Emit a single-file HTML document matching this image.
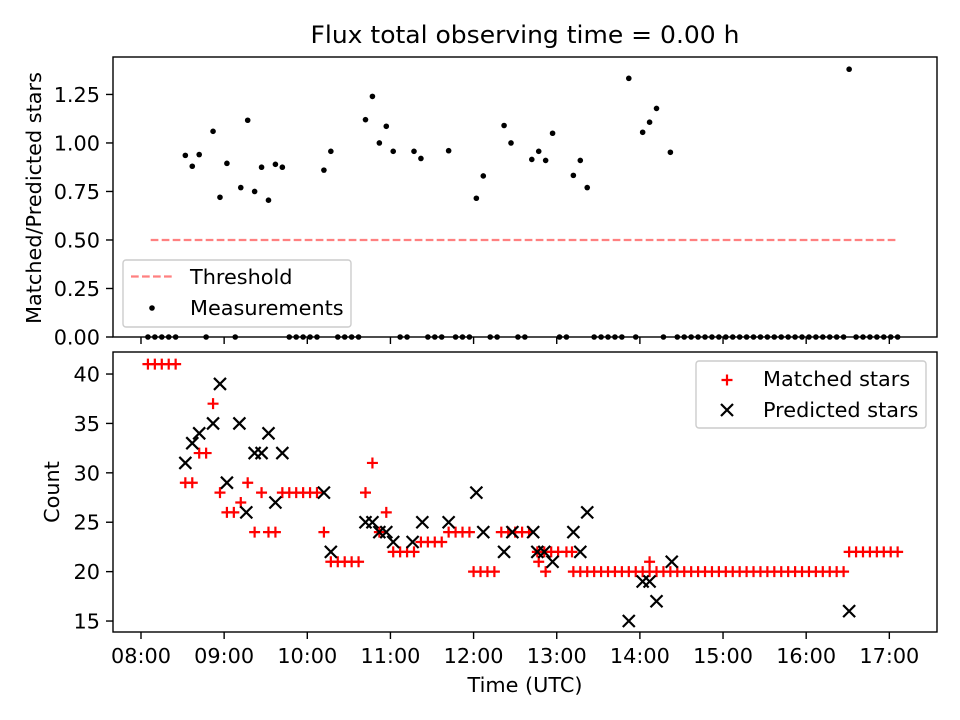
<!DOCTYPE html>
<html><head><meta charset="utf-8"><style>
html,body{margin:0;padding:0;background:#fff;}
svg{display:block;font-family:"DejaVu Sans","Liberation Sans",sans-serif;}
</style></head><body>
<svg id="chart" width="960" height="720" viewBox="0 0 960 720" xmlns="http://www.w3.org/2000/svg"></svg>
<script>
// minutes after 08:00
const matchedTimes = [5,10,15,20,25,32,37,42,47,52,57,62,67,72,77,82,87,92,97,102,107,112,117,122,127,132,137,142,147,152,157,162,167,172,177,182,187,192,197,202,207,212,217,222,227,232,237,240,245,250,255,260,265,270,275,280,286,291,296,301,307,311,
312,317,322,327,332,337,342,347,352,357,362,367,372,377,382,387,392,397,402,407,412,417,422,427,432,437,442,447,452,457,462,467,472,477,482,487,492,497,502,507,367,511,516,521,526,531,536,541,546,287,292];
const matchedCounts = [41,41,41,41,41,29,29,32,32,37,28,26,26,27,29,24,28,24,24,28,28,28,28,28,28,24,21,21,21,21,21,28,31,24,26,22,22,22,22,23,23,23,23,24,24,24,24,20,20,20,20,24,24,24,24,24,22,22,22,22,22,22,
20,20,20,20,20,20,20,20,20,20,20,20,20,20,20,20,20,20,20,20,20,20,20,20,20,20,20,20,20,20,20,20,20,20,20,20,20,20,20,20,21,22,22,22,22,22,22,22,22,21,20];
const predictedTimes = [32,37,42,52,57,62,71,76,82,87,92,97,102,132,137,162,167,172,177,182,196,203,222,242,247,262,268,283,286,291,297,312,317,322,352,362,367,372,383,511];
const predictedCounts = [31,33,34,35,39,29,35,26,32,32,34,27,32,28,22,25,25,24,24,23,23,25,25,28,24,22,24,24,22,22,21,24,22,26,15,19,19,17,21,16];
const ratioTimes = [32,37,42,52,57,62,72,77,82,87,92,97,102,132,137,162,167,172,177,182,197,202,222,242,247,262,267,282,287,292,297,312,317,322,352,362,367,372,382,511,
5,10,15,20,25,47,68,107,112,117,122,127,142,147,152,157,187,192,207,212,217,227,232,237,252,257,272,277,302,307,327,332,337,342,347,357,377,
387,392,397,402,407,412,417,422,427,432,437,442,447,452,457,462,467,472,477,482,487,492,497,502,507,516,521,526,531,536,541,546];
const ratioValues = [0.936,0.88,0.94,1.06,0.72,0.895,0.77,1.117,0.75,0.875,0.705,0.89,0.875,0.86,0.957,1.12,1.24,1.0,1.086,0.957,0.957,0.92,0.96,0.715,0.83,1.09,1.0,0.915,0.957,0.91,1.05,0.833,0.91,0.77,1.333,1.055,1.107,1.178,0.952,1.38,
0,0,0,0,0,0,0,0,0,0,0,0,0,0,0,0,0,0,0,0,0,0,0,0,0,0,0,0,0,0,0,0,0,0,0,0,0,
0,0,0,0,0,0,0,0,0,0,0,0,0,0,0,0,0,0,0,0,0,0,0,0,0,0,0,0,0,0,0,0];
const thresholdValue = 0.5;
const thresholdRange = [7, 545];
const xTickLabels = ["08:00","09:00","10:00","11:00","12:00","13:00","14:00","15:00","16:00","17:00"];
const topYTicks = [0,0.25,0.5,0.75,1.0,1.25];
const bottomYTicks = [15,20,25,30,35,40];

const NS="http://www.w3.org/2000/svg";
const svg=document.getElementById('chart');
function mk(tag,attrs,parent){const e=document.createElementNS(NS,tag);for(const k in attrs)e.setAttribute(k,attrs[k]);(parent||svg).appendChild(e);return e;}
const L=113,R=937,T1=57,B1=337,T2=352,B2=632;
const xMin=-20.2, xMax=574.4;
function xs(m){return L+(m-xMin)/(xMax-xMin)*(R-L);}
const rMin=0, rMax=1.443;
function y1(v){return B1-(v-rMin)/(rMax-rMin)*(B1-T1);}
const cMin=13.89,cMax=42.23;
function y2(v){return B2-(v-cMin)/(cMax-cMin)*(B2-T2);}
const FS=20.8;

let t=mk('text',{x:525,y:43,'text-anchor':'middle','font-size':'24',textLength:429,lengthAdjust:'spacingAndGlyphs'});t.textContent='Flux total observing time = 0.00 h';



const gTop=mk('g',{});


let th=mk('line',{x1:xs(thresholdRange[0]),x2:xs(thresholdRange[1]),y1:y1(thresholdValue),y2:y1(thresholdValue),stroke:'#ff8080','stroke-width':2.2,'stroke-dasharray':'7.7,3.3'},gTop);


ratioTimes.forEach((m,i)=>{
  const c=mk('circle',{cx:xs(m),cy:y1(ratioValues[i]),r:2.8,fill:'#000'},gTop);
  
  
});
const gBot=mk('g',{});


function plus(x,y,p,col){mk('path',{d:`M${x-5.5},${y}H${x+5.5}M${x},${y-5.5}V${y+5.5}`,stroke:col,'stroke-width':2.2},p);}
function cross(x,y,p){mk('path',{d:`M${x-6},${y-6}L${x+6},${y+6}M${x-6},${y+6}L${x+6},${y-6}`,stroke:'#000','stroke-width':2.2},p);}
matchedTimes.forEach((m,i)=>{
  const g=mk('g',{},gBot);
  
  
  plus(xs(m),y2(matchedCounts[i]),g,'#ff0000');
});
predictedTimes.forEach((m,i)=>{
  const g=mk('g',{},gBot);
  
  
  cross(xs(m),y2(predictedCounts[i]),g);
});

[[T1,B1,'top'],[T2,B2,'bottom']].forEach(([T,B,n])=>{
  const r=mk('rect',{x:L,y:T,width:R-L,height:B-T,fill:'none',stroke:'#000','stroke-width':1.4});
  
  
  xTickLabels.forEach((lab,i)=>{
    const x=xs(i*60);
    mk('line',{x1:x,x2:x,y1:B,y2:B+7,stroke:'#000','stroke-width':1.4});
    if(n==='bottom'){const tx=mk('text',{x:x,y:663,'text-anchor':'middle','font-size':FS});tx.textContent=lab;
      
      }
  });
});
topYTicks.forEach(v=>{
  const y=y1(v);mk('line',{x1:L-7,x2:L,y1:y,y2:y,stroke:'#000','stroke-width':1.4});
  const tx=mk('text',{x:100,y:y+7.5,'text-anchor':'end','font-size':FS});tx.textContent=v.toFixed(2);
  
  
});
bottomYTicks.forEach(v=>{
  const y=y2(v);mk('line',{x1:L-7,x2:L,y1:y,y2:y,stroke:'#000','stroke-width':1.4});
  const tx=mk('text',{x:100,y:y+7.5,'text-anchor':'end','font-size':FS});tx.textContent=String(v);
  
  
});
let yl=mk('text',{transform:'translate(41,198) rotate(-90)','text-anchor':'middle','font-size':FS});yl.textContent='Matched/Predicted stars';


let yl2=mk('text',{transform:'translate(59,492) rotate(-90)','text-anchor':'middle','font-size':FS});yl2.textContent='Count';


let xl=mk('text',{x:525,y:692,'text-anchor':'middle','font-size':FS});xl.textContent='Time (UTC)';



const lg1=mk('g',{});


mk('rect',{x:123,y:260,width:228,height:67,rx:3,fill:'#fff','fill-opacity':0.8,stroke:'#ccc','stroke-width':1.4},lg1);
mk('line',{x1:131,x2:173,y1:276.5,y2:276.5,stroke:'#ff8080','stroke-width':2.2,'stroke-dasharray':'7.7,3.3'},lg1);
let a=mk('text',{x:190,y:284,'font-size':FS},lg1);a.textContent='Threshold';
mk('circle',{cx:152,cy:308,r:2.8,fill:'#000'},lg1);
let b=mk('text',{x:190,y:315,'font-size':FS},lg1);b.textContent='Measurements';
const lg2=mk('g',{});


mk('rect',{x:696,y:361,width:230,height:67,rx:3,fill:'#fff','fill-opacity':0.8,stroke:'#ccc','stroke-width':1.4},lg2);
plus(727,380,lg2,'#ff0000');
let c1=mk('text',{x:763,y:386,'font-size':FS},lg2);c1.textContent='Matched stars';
cross(727,410,lg2);
let c2=mk('text',{x:763,y:417,'font-size':FS},lg2);c2.textContent='Predicted stars';
</script>
</body></html>
